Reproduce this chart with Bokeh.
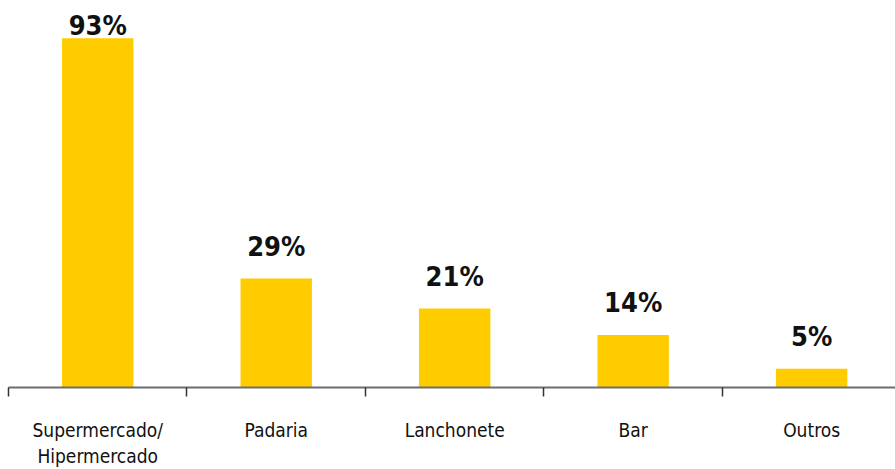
from bokeh.plotting import figure
from bokeh.models import Range1d, FixedTicker, ColumnDataSource
from bokeh.core.properties import value
from bokeh.embed import file_html
from bokeh.resources import INLINE

categories = ["Supermercado/\nHipermercado", "Padaria", "Lanchonete", "Bar", "Outros"]
values = [93, 29, 21, 14, 5]
labels = ["93%", "29%", "21%", "14%", "5%"]

xs = [i + 0.5 for i in range(len(categories))]
label_y = [min(v + 4.5, 92.3) for v in values]

src = ColumnDataSource(dict(x=xs, top=values, ly=label_y, lab=labels))

p = figure(width=895, height=469, output_backend="svg", toolbar_location=None,
           x_range=Range1d(0, 4.97), y_range=Range1d(0, 100.9),
           min_border_left=8, min_border_right=0, min_border_top=8, min_border_bottom=78)
p.outline_line_color = None
p.grid.grid_line_color = None
p.yaxis.visible = False

p.vbar(x="x", top="top", width=0.4, bottom=0, source=src, color="#FFCC00", line_color=None)
p.text(x="x", y="ly", text="lab", source=src, text_align="center", text_baseline="bottom",
       text_font=value("DejaVu Sans Condensed"), text_font_style="bold",
       text_font_size="27px", text_color="#111111")

ax = p.xaxis[0]
ax.ticker = FixedTicker(ticks=xs, minor_ticks=list(range(len(categories) + 1)))
ax.major_label_overrides = {x: c for x, c in zip(xs, categories)}
ax.major_tick_line_color = None
ax.minor_tick_in = 0
ax.minor_tick_out = 9
ax.minor_tick_line_color = "#333333"
ax.minor_tick_line_width = 1.5
ax.axis_line_color = "#6d6d6d"
ax.axis_line_width = 2
ax.major_label_standoff = 22
ax.major_label_text_font = "DejaVu Sans Condensed"
ax.major_label_text_font_size = "19px"
ax.major_label_text_color = "#111111"

open("out.html", "w").write(file_html(p, INLINE))
